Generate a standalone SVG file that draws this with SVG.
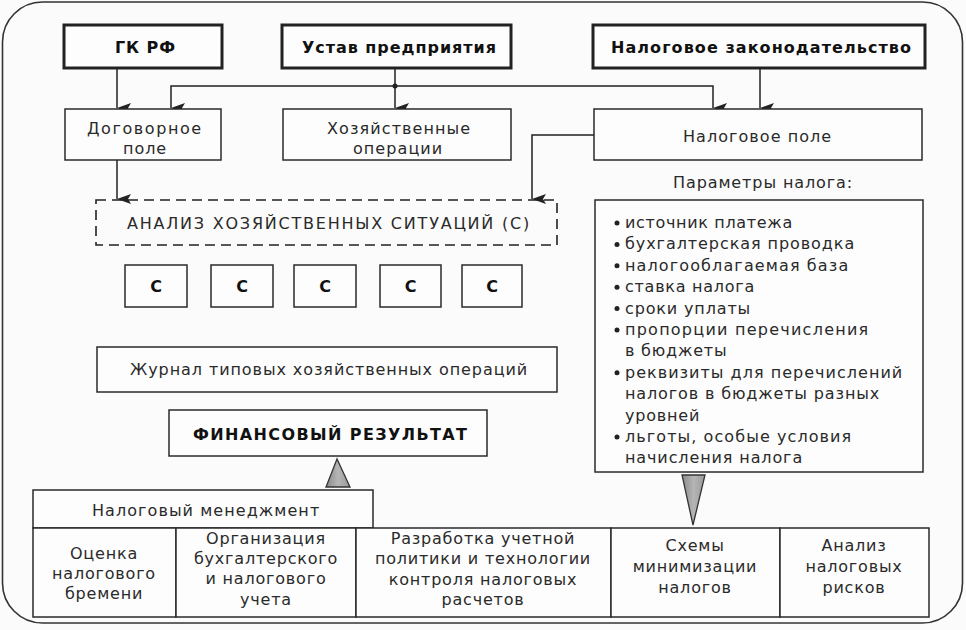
<svg xmlns="http://www.w3.org/2000/svg" width="966" height="630" viewBox="0 0 966 630">
<defs>
<style>
.bg{fill:#fbfbfb}
.frame{fill:none;stroke:#333;stroke-width:1.6}
.box{fill:#fdfdfd;stroke:#2a2a2a;stroke-width:1.5}
.tbox{fill:#fdfdfd;stroke:#222;stroke-width:3}
.dash{fill:none;stroke:#222;stroke-width:1.6;stroke-dasharray:10 6}
.t{font-family:"DejaVu Sans",sans-serif;font-size:16px;fill:#2a2a2a;letter-spacing:0.8px}
.b{font-family:"DejaVu Sans",sans-serif;font-weight:bold;font-size:16px;fill:#111}
.m{text-anchor:middle}
.line{fill:none;stroke:#222;stroke-width:1.5}
</style>
<marker id="arr" markerUnits="userSpaceOnUse" markerWidth="10" markerHeight="14" refX="5" refY="14" orient="auto-start-reverse" viewBox="0 0 10 14">
<path d="M0,0 L5,14 L10,0 L5,3 Z" fill="#222"/>
</marker>
<linearGradient id="g1" x1="0" y1="0" x2="1" y2="0">
<stop offset="0" stop-color="#8a8a8a"/><stop offset="0.5" stop-color="#b5b5b5"/><stop offset="1" stop-color="#9a9a9a"/>
</linearGradient>
</defs>
<rect class="bg" x="0" y="0" width="966" height="630"/>
<rect class="frame" x="2.5" y="2" width="960" height="621" rx="40" ry="40"/>

<g id="connectors">
<line class="line" x1="117" y1="68" x2="117" y2="108" marker-end="url(#arr)"/>
<line class="line" x1="395" y1="68" x2="395" y2="108" marker-end="url(#arr)"/>
<circle cx="395" cy="86" r="2.5" fill="#222"/>
<polyline class="line" points="171,108 171,86 713,86 713,108" marker-start="url(#arr)" marker-end="url(#arr)"/>
<line class="line" x1="760" y1="68" x2="760" y2="108" marker-end="url(#arr)"/>
<line class="line" x1="117" y1="160" x2="117" y2="199" marker-end="url(#arr)"/>
<polyline class="line" points="594,135 532,135 532,199" marker-end="url(#arr)"/>
<path d="M337,459 L326,487 L350,487 Z" fill="url(#g1)" stroke="#333" stroke-width="1.3"/>
<path d="M682,475 L705,475 L693,525 Z" fill="url(#g1)" stroke="#333" stroke-width="1.3"/>
</g>

<g id="gk">
<rect class="tbox" x="64" y="25" width="158" height="43"/>
<text class="b" x="115" y="53" textLength="60">ГК РФ</text>
</g>
<g id="ustav">
<rect class="tbox" x="282" y="25" width="229" height="43"/>
<text class="b" x="302" y="53" textLength="194">Устав предприятия</text>
</g>
<g id="zakon">
<rect class="tbox" x="593" y="25" width="332" height="43"/>
<text class="b" x="611" y="53" textLength="300">Налоговое законодательство</text>
</g>

<g id="dogovor">
<rect class="box" x="65" y="109" width="156" height="51"/>
<text class="t" x="87" y="134" textLength="115">Договорное</text>
<text class="t" x="123" y="154" textLength="44">поле</text>
</g>
<g id="hoz">
<rect class="box" x="283" y="109" width="228" height="51"/>
<text class="t" x="327" y="134" textLength="144">Хозяйственные</text>
<text class="t" x="353" y="154" textLength="90">операции</text>
</g>
<g id="nalpole">
<rect class="box" x="594" y="109" width="328" height="51"/>
<text class="t" x="683" y="142" textLength="149">Налоговое поле</text>
</g>

<g id="params">
<text class="t" x="673" y="188" textLength="180">Параметры налога:</text>
<rect class="box" x="595" y="200" width="328" height="272"/>
<g fill="#222">
<circle cx="617" cy="223" r="2.5"/><circle cx="617" cy="244.4" r="2.5"/><circle cx="617" cy="265.8" r="2.5"/>
<circle cx="617" cy="287.2" r="2.5"/><circle cx="617" cy="308.6" r="2.5"/><circle cx="617" cy="330" r="2.5"/>
<circle cx="617" cy="372.8" r="2.5"/><circle cx="617" cy="436.9" r="2.5"/>
</g>
<text class="t" x="625" y="228" textLength="168">источник платежа</text>
<text class="t" x="625" y="249.4" textLength="230">бухгалтерская проводка</text>
<text class="t" x="625" y="270.8" textLength="224">налогооблагаемая база</text>
<text class="t" x="625" y="292.2" textLength="130">ставка налога</text>
<text class="t" x="625" y="313.6" textLength="126">сроки уплаты</text>
<text class="t" x="625" y="335" textLength="244">пропорции перечисления</text>
<text class="t" x="625" y="356.4">в бюджеты</text>
<text class="t" x="625" y="377.8" textLength="278">реквизиты для перечислений</text>
<text class="t" x="625" y="399.2" textLength="255">налогов в бюджеты разных</text>
<text class="t" x="625" y="420.6">уровней</text>
<text class="t" x="625" y="442" textLength="227">льготы, особые условия</text>
<text class="t" x="625" y="463.4" textLength="178">начисления налога</text>
</g>

<g id="analiz">
<rect class="dash" x="96" y="200" width="461" height="45"/>
<text class="t" x="127" y="229" textLength="403">АНАЛИЗ ХОЗЯЙСТВЕННЫХ СИТУАЦИЙ (С)</text>
</g>
<g id="c1"><rect class="box" x="125" y="265" width="62" height="42"/><text class="b m" x="156" y="292">С</text></g>
<g id="c2"><rect class="box" x="211" y="265" width="62" height="42"/><text class="b m" x="242" y="292">С</text></g>
<g id="c3"><rect class="box" x="294" y="265" width="62" height="42"/><text class="b m" x="325" y="292">С</text></g>
<g id="c4"><rect class="box" x="380" y="265" width="61" height="42"/><text class="b m" x="410.5" y="292">С</text></g>
<g id="c5"><rect class="box" x="462" y="265" width="60" height="42"/><text class="b m" x="492" y="292">С</text></g>

<g id="zhurnal">
<rect class="box" x="97" y="347" width="460" height="45"/>
<text class="t" x="130" y="375" textLength="398">Журнал типовых хозяйственных операций</text>
</g>
<g id="finres">
<rect class="box" x="169" y="410" width="318" height="46"/>
<text class="b" x="193" y="440" textLength="274">ФИНАНСОВЫЙ РЕЗУЛЬТАТ</text>
</g>

<g id="menedzh">
<rect class="box" x="33" y="490" width="340" height="38"/>
<text class="t" x="92" y="516" textLength="228">Налоговый менеджмент</text>
</g>
<g id="ocenka">
<rect class="box" x="33" y="528" width="143" height="89"/>
<text class="t m" x="104" y="559">Оценка</text>
<text class="t m" x="104" y="579">налогового</text>
<text class="t m" x="104" y="599">бремени</text>
</g>
<g id="org">
<rect class="box" x="176" y="528" width="180" height="89"/>
<text class="t m" x="266" y="544">Организация</text>
<text class="t m" x="266" y="564">бухгалтерского</text>
<text class="t m" x="266" y="584">и налогового</text>
<text class="t m" x="266" y="605">учета</text>
</g>
<g id="razrab">
<rect class="box" x="356" y="528" width="255" height="89"/>
<text class="t m" x="483" y="544">Разработка учетной</text>
<text class="t m" x="483" y="564">политики и технологии</text>
<text class="t m" x="483" y="585">контроля налоговых</text>
<text class="t m" x="483" y="605">расчетов</text>
</g>
<g id="shemy">
<rect class="box" x="611" y="528" width="169" height="89"/>
<text class="t m" x="695" y="551">Схемы</text>
<text class="t m" x="695" y="572">минимизации</text>
<text class="t m" x="695" y="593">налогов</text>
</g>
<g id="riski">
<rect class="box" x="780" y="528" width="149" height="89"/>
<text class="t m" x="854" y="551">Анализ</text>
<text class="t m" x="854" y="572">налоговых</text>
<text class="t m" x="854" y="593">рисков</text>
</g>
</svg>
